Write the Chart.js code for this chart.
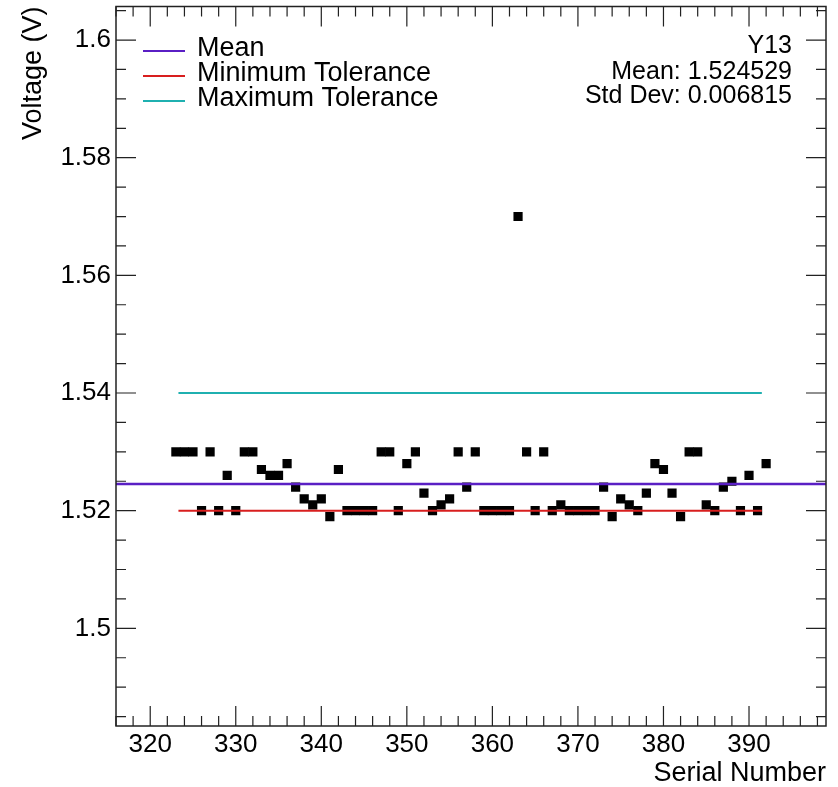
<!DOCTYPE html>
<html>
<head>
<meta charset="utf-8">
<script src="https://cdn.jsdelivr.net/npm/chart.js@4.4.1/dist/chart.umd.min.js"></script>
<style>
  html, body { margin: 0; padding: 0; background: #fff; }
  #wrap { width: 838px; height: 787px; }
</style>
</head>
<body>
<div id="wrap"><canvas id="chart" width="838" height="787"></canvas></div>
<script>
// Measured values, one per serial number
const serialNumbers = [
  323, 324, 325, 326, 327, 328, 329, 330, 331, 332,
  333, 334, 335, 336, 337, 338, 339, 340, 341, 342,
  343, 344, 345, 346, 347, 348, 349, 350, 351, 352,
  353, 354, 355, 356, 357, 358, 359, 360, 361, 362,
  363, 364, 365, 366, 367, 368, 369, 370, 371, 372,
  373, 374, 375, 376, 377, 378, 379, 380, 381, 382,
  383, 384, 385, 386, 387, 388, 389, 390, 391, 392
];
const voltages = [
  1.530, 1.530, 1.530, 1.520, 1.530, 1.520, 1.526, 1.520, 1.530, 1.530,
  1.527, 1.526, 1.526, 1.528, 1.524, 1.522, 1.521, 1.522, 1.519, 1.527,
  1.520, 1.520, 1.520, 1.520, 1.530, 1.530, 1.520, 1.528, 1.530, 1.523,
  1.520, 1.521, 1.522, 1.530, 1.524, 1.530, 1.520, 1.520, 1.520, 1.520,
  1.570, 1.530, 1.520, 1.530, 1.520, 1.521, 1.520, 1.520, 1.520, 1.520,
  1.524, 1.519, 1.522, 1.521, 1.520, 1.523, 1.528, 1.527, 1.523, 1.519,
  1.530, 1.530, 1.521, 1.520, 1.524, 1.525, 1.520, 1.526, 1.520, 1.528
];

const xTicks = [320, 330, 340, 350, 360, 370, 380, 390];
const yTicks = [1.5, 1.52, 1.54, 1.56, 1.58, 1.6];
const xRange = [316, 399];
const yRange = [1.4834, 1.6057];

const channelName = 'Y13';
const meanVoltage = 1.524529;
const stdDev = 0.006815;
const minTolerance = 1.52;
const maxTolerance = 1.54;
const toleranceSpan = [323.3, 391.5];

const FONT = "'Liberation Sans', Arial, Helvetica, sans-serif";
const MEAN_COLOR = '#5a1fc4';
const MIN_COLOR = '#d81e1e';
const MAX_COLOR = '#1fb0b0';

// ROOT-like frame with inward ticks on all four sides, legend and stats text
const rootFrame = {
  id: 'rootFrame',
  afterDraw(chart) {
    const { ctx, chartArea: a, scales: { x, y } } = chart;
    ctx.save();
    ctx.strokeStyle = '#222';
    ctx.lineWidth = 1.5;
    ctx.strokeRect(a.left, a.top, a.right - a.left, a.bottom - a.top);

    ctx.lineWidth = 1.2;
    ctx.beginPath();
    for (let v = xRange[0]; v <= xRange[1]; v += 2) {
      const px = x.getPixelForValue(v);
      const len = v % 10 === 0 ? 20 : 10;
      ctx.moveTo(px, a.bottom); ctx.lineTo(px, a.bottom - len);
      ctx.moveTo(px, a.top); ctx.lineTo(px, a.top + len);
    }
    for (let k = Math.ceil(yRange[0] / 0.005); k * 0.005 <= yRange[1]; k++) {
      const py = y.getPixelForValue(k * 0.005);
      const len = k % 4 === 0 ? 20 : 10;
      ctx.moveTo(a.left, py); ctx.lineTo(a.left + len, py);
      ctx.moveTo(a.right, py); ctx.lineTo(a.right - len, py);
    }
    ctx.stroke();

    // legend
    const legend = [
      ['Mean', MEAN_COLOR, 51],
      ['Minimum Tolerance', MIN_COLOR, 76],
      ['Maximum Tolerance', MAX_COLOR, 101]
    ];
    ctx.font = '27px ' + FONT;
    ctx.fillStyle = '#000';
    ctx.textAlign = 'left';
    ctx.textBaseline = 'middle';
    legend.forEach(([label, color, ly]) => {
      ctx.strokeStyle = color;
      ctx.lineWidth = 2;
      ctx.beginPath();
      ctx.moveTo(143, ly); ctx.lineTo(185, ly);
      ctx.stroke();
      ctx.fillText(label, 197, ly - 2);
    });

    // stats box text
    ctx.font = '25px ' + FONT;
    ctx.textAlign = 'right';
    ctx.textBaseline = 'alphabetic';
    ctx.fillText(channelName, 792, 53);
    ctx.fillText('Mean: ' + meanVoltage.toFixed(6), 792, 79);
    ctx.fillText('Std Dev: ' + stdDev.toFixed(6), 792, 103);
    ctx.restore();
  }
};

const noPad = s => {
  s.paddingTop = 0; s.paddingBottom = 0;
  s.paddingLeft = 0; s.paddingRight = 0;
};

const points = serialNumbers.map((s, i) => ({ x: s, y: voltages[i] }));

new Chart(document.getElementById('chart'), {
  type: 'scatter',
  data: {
    datasets: [
      {
        type: 'line', label: 'Mean',
        data: [{ x: xRange[0], y: meanVoltage }, { x: xRange[1], y: meanVoltage }],
        borderColor: MEAN_COLOR, borderWidth: 2.5, pointRadius: 0
      },
      {
        type: 'line', label: 'Minimum Tolerance',
        data: [{ x: toleranceSpan[0], y: minTolerance }, { x: toleranceSpan[1], y: minTolerance }],
        borderColor: MIN_COLOR, borderWidth: 2, pointRadius: 0
      },
      {
        type: 'line', label: 'Maximum Tolerance',
        data: [{ x: toleranceSpan[0], y: maxTolerance }, { x: toleranceSpan[1], y: maxTolerance }],
        borderColor: MAX_COLOR, borderWidth: 2, pointRadius: 0
      },
      {
        label: channelName,
        data: points,
        pointStyle: 'rect',
        pointRadius: 6.5,
        borderWidth: 0,
        backgroundColor: '#000',
        borderColor: '#000'
      }
    ]
  },
  options: {
    responsive: false,
    animation: false,
    devicePixelRatio: 1,
    layout: { padding: { top: 6, right: 12, left: 0, bottom: 0 } },
    plugins: { legend: { display: false }, tooltip: { enabled: false } },
    scales: {
      x: {
        type: 'linear',
        min: xRange[0], max: xRange[1],
        afterFit: s => { s.height = 61; noPad(s); },
        afterBuildTicks: s => { s.ticks = xTicks.map(v => ({ value: v })); },
        grid: { display: false, drawTicks: false },
        border: { display: false },
        ticks: { color: '#000', padding: 3, maxRotation: 0, font: { family: FONT, size: 26 } },
        title: {
          display: true, text: 'Serial Number', align: 'end', color: '#000',
          padding: { top: 0, bottom: -3 },
          font: { family: FONT, size: 27 }
        }
      },
      y: {
        type: 'linear',
        min: yRange[0], max: yRange[1],
        afterFit: s => { s.width = 116; noPad(s); },
        afterBuildTicks: s => { s.ticks = yTicks.map(v => ({ value: v })); },
        grid: { display: false, drawTicks: false },
        border: { display: false },
        ticks: { color: '#000', padding: 5, font: { family: FONT, size: 26 }, callback: v => String(v) },
        title: {
          display: true, text: 'Voltage (V)', align: 'end', color: '#000',
          padding: { top: 17, bottom: 0 },
          font: { family: FONT, size: 27 }
        }
      }
    }
  },
  plugins: [rootFrame]
});
</script>
</body>
</html>
